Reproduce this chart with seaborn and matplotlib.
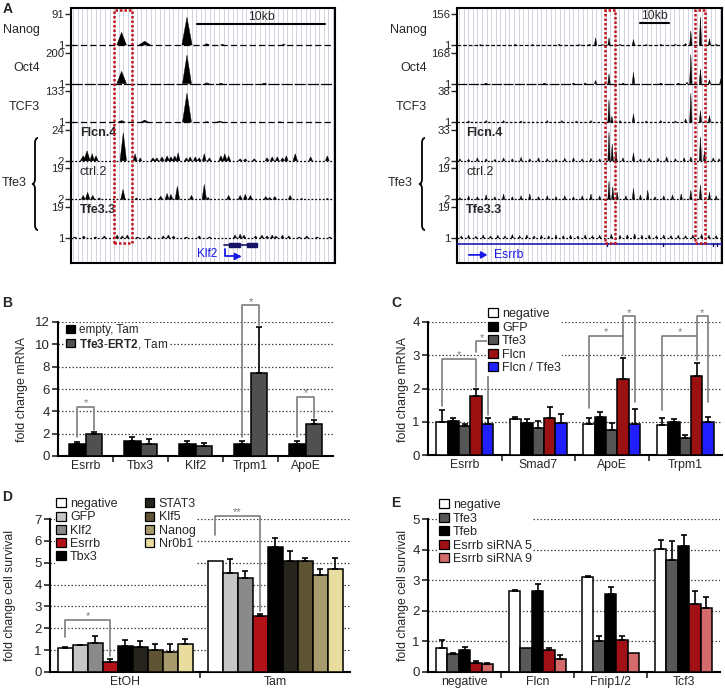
import numpy as np
import pandas as pd
import seaborn as sns
import matplotlib
matplotlib.use("Agg")
import matplotlib.pyplot as plt
import matplotlib.transforms as mtransforms
from matplotlib.patches import Patch, Rectangle, PathPatch
from matplotlib.path import Path

# ---------------------------------------------------------------- data
# Panel A, left browser (Klf2 locus), positions in kb, (pos, signal, width)
L_NAMES = ["Nanog", "Oct4", "TCF3", "Flcn.4", "ctrl.2", "Tfe3.3"]
L_RANGES = [(1, 91), (1, 200), (1, 133), (2, 24), (2, 19), (1, 19)]
L_NANOG = [(3.95, 38, 0.75), (5.75, 12, 0.9), (9.05, 82, 0.8), (10.6, 5, 0.4), (11.8, 3, 0.3), (16.6, 3, 0.3)]
L_OCT4 = [(3.95, 80, 0.75), (9.05, 185, 0.7), (10.6, 6, 0.4), (11.7, 4, 0.3), (15.1, 3, 0.3)]
L_TCF3 = [(3.95, 8, 0.6), (5.75, 10, 0.6), (9.05, 125, 0.7), (10.6, 4, 0.3), (11.6, 6, 0.5), (16.3, 3, 0.3)]
L_FLCN = [(0.95, 5.5, 0.45), (1.25, 9.1, 0.5), (1.65, 7.0, 0.35), (1.95, 5.5, 0.35), (4.08, 22, 0.5),
          (5.0, 7.0, 0.3), (5.4, 4.1, 0.25), (6.4, 4.1, 0.35), (6.7, 4.1, 0.3), (7.1, 4.8, 0.35),
          (7.5, 5.5, 0.35), (7.8, 4.8, 0.35), (8.1, 5.5, 0.35), (8.36, 7.7, 0.3), (9.0, 4.1, 0.3),
          (9.3, 4.8, 0.3), (9.7, 4.8, 0.3), (10.0, 4.1, 0.3), (10.4, 7.0, 0.3), (10.8, 4.1, 0.3),
          (11.7, 5.5, 0.35), (12.0, 7.0, 0.35), (12.3, 5.5, 0.3), (13.2, 3.4, 0.3), (13.6, 3.4, 0.3),
          (14.3, 3.4, 0.3), (15.3, 4.1, 0.3), (15.7, 4.8, 0.3), (16.1, 4.8, 0.3), (16.5, 4.1, 0.3),
          (16.8, 5.5, 0.3), (17.5, 7.0, 0.35), (18.7, 4.8, 0.3), (20.0, 5.5, 0.3)]
L_CTRL = [(0.95, 4.2, 0.3), (1.3, 5.9, 0.35), (1.7, 4.2, 0.3), (2.2, 2.8, 0.25), (4.06, 7.5, 0.35),
          (5.1, 2.8, 0.25), (6.2, 2.8, 0.25), (7.0, 3.8, 0.3), (7.5, 5.3, 0.3), (7.8, 4.8, 0.3),
          (8.3, 9.2, 0.35), (9.4, 4.2, 0.3), (10.4, 10.2, 0.35), (10.7, 3.1, 0.25), (12.3, 4.2, 0.3),
          (13.2, 4.2, 0.3), (13.6, 4.8, 0.3), (14.0, 4.2, 0.3), (15.2, 3.6, 0.3), (15.5, 3.1, 0.25),
          (15.9, 3.6, 0.3), (17.1, 4.2, 0.3), (18.0, 2.6, 0.2), (20.0, 2.6, 0.2)]
L_TFE33 = [(0.3, 1.6, 0.25), (1.0, 2.2, 0.25), (1.9, 1.6, 0.25), (2.6, 2.2, 0.25), (3.6, 2.7, 0.25),
           (4.0, 2.2, 0.25), (4.4, 2.7, 0.25), (5.2, 1.6, 0.25), (6.1, 2.2, 0.25), (7.2, 2.2, 0.25),
           (7.6, 2.7, 0.25), (8.0, 2.2, 0.25), (9.0, 1.6, 0.25), (10.0, 2.2, 0.25), (10.8, 1.6, 0.25),
           (12.8, 2.7, 0.25), (13.2, 3.3, 0.25), (13.5, 2.7, 0.25), (14.4, 2.2, 0.25), (14.9, 2.7, 0.25),
           (15.3, 2.2, 0.25), (15.7, 2.7, 0.25), (16.0, 2.2, 0.25), (16.5, 2.7, 0.25), (17.0, 2.2, 0.25),
           (17.8, 1.6, 0.25), (18.4, 2.2, 0.25), (19.2, 1.6, 0.25), (20.2, 1.6, 0.25)]
L_SPAN_KB = 20.6
L_BOX_KB = (3.36, 4.77)
L_SCALE_KB = (9.84, 19.84)
KLF2_SPAN = (11.9, 14.5)
KLF2_EXONS = [(12.3, 13.2), (13.7, 14.5)]

# Panel A, right browser (Esrrb locus), (pos, signal)
R_RANGES = [(1, 156), (1, 168), (1, 38), (2, 33), (2, 19), (1, 19)]
R_NANOG = [(8, 2), (20, 3), (26, 2), (35, 3), (42, 2), (45.5, 5), (47.6, 37), (50, 3), (52.2, 37), (56, 4),
           (60.6, 29), (65, 2), (70, 3), (75, 4), (78.5, 9), (80.3, 72), (83.6, 143), (86.7, 33), (89, 3)]
R_OCT4 = [(10, 2), (30, 3), (40, 2), (44, 5), (47.6, 18), (52.2, 54), (57, 4), (60.6, 63), (70, 3), (76, 3),
          (79, 8), (80.3, 160), (83.6, 80), (86.7, 22), (90.6, 27)]
R_TCF3 = [(4, 2.5), (10, 3), (16, 3), (22, 2.5), (31, 3), (36, 3), (41, 2.5), (46, 3), (52.2, 28), (53.2, 8),
          (56, 3), (60.6, 11), (65, 2.5), (70, 3), (75, 2.5), (78.5, 5), (80.3, 36), (83.6, 15), (86.7, 9)]
R_FLCN = [(1, 4), (4, 3.5), (7, 5), (10, 4), (13, 3.5), (16, 5), (19, 4), (22, 5.5), (25, 4), (28, 5), (31, 4),
          (34, 3.5), (37, 4.5), (40, 5), (43, 4), (46, 4.5), (49, 4), (52.2, 31), (53.3, 19), (54.6, 12),
          (57, 5), (60.6, 10), (63, 4), (66, 5), (69, 4.5), (72, 6), (75, 4), (78, 5), (80.3, 6), (83.6, 26),
          (85, 12), (88, 5), (90, 4)]
R_CTRL = [(1, 3), (4, 4), (7, 3.5), (10, 4.5), (13, 3.5), (16, 5), (19, 3.5), (22, 4), (25, 5), (28, 3.5),
          (31, 4), (34, 3.5), (37, 4), (40, 3.5), (43, 4), (46, 5), (49, 4), (52.2, 12), (53.5, 9), (55, 6),
          (58, 4), (60.6, 8), (63, 4.5), (65.5, 7), (68, 3.5), (71, 4), (74, 4.5), (77, 5), (80.3, 7),
          (83.6, 10), (86.7, 6), (89, 4)]
R_TFE33 = [(1.5, 2.2), (4, 2.6), (6.5, 2), (9, 2.8), (11.5, 2.2), (14, 2.6), (16.5, 2.2), (19, 3), (21.5, 2.4),
           (24, 2.8), (26.5, 2.2), (29, 2.6), (31.5, 2.2), (34, 2.8), (36.5, 2.4), (39, 2.6), (41.5, 2.2),
           (44, 2.8), (46.5, 2.4), (49, 2.6), (53, 3.2), (56, 2.6), (58.5, 2.8), (61, 3.4), (63.5, 2.6),
           (66, 2.8), (68.5, 2.4), (71, 2.8), (73.5, 2.4), (76, 2.6), (78.5, 2.4), (81, 2.8), (84, 3.2),
           (86.5, 2.6), (89, 2.4)]
R_SPAN_KB = 91.0
R_BOXES_KB = [(50.8, 54.3), (81.8, 85.3)]
R_SCALE_KB = (62.8, 72.8)
ESRRB_MARKS = [51.4, 70.7, 87.9, 89.2]

# Panel B
B_GENES = ["Esrrb", "Tbx3", "Klf2", "Trpm1", "ApoE"]
B_GROUPS = ["empty, Tam", "Tfe3-ERT2, Tam"]
B_VALUES = {"empty, Tam": [1.1, 1.34, 1.1, 1.1, 1.1],
            "Tfe3-ERT2, Tam": [1.94, 1.1, 0.9, 7.43, 2.9]}
B_ERRORS = {"empty, Tam": [0.15, 0.36, 0.2, 0.24, 0.24],
            "Tfe3-ERT2, Tam": [0.21, 0.4, 0.23, 4.12, 0.3]}
B_COLORS = ["#000000", "#505050"]
B_BRACKETS = [("Esrrb", "empty, Tam", 1.7, "Tfe3-ERT2, Tam", 2.3, 4.4, "*"),
              ("Trpm1", "empty, Tam", 1.7, "Tfe3-ERT2, Tam", 11.7, 13.5, "*"),
              ("ApoE", "empty, Tam", 1.7, "Tfe3-ERT2, Tam", 3.4, 5.3, "*")]

# Panel C
C_GENES = ["Esrrb", "Smad7", "ApoE", "Trpm1"]
C_GROUPS = ["negative", "GFP", "Tfe3", "Flcn", "Flcn / Tfe3"]
C_VALUES = {"negative": [1.0, 1.07, 0.92, 0.9],
            "GFP": [1.02, 0.95, 1.15, 1.0],
            "Tfe3": [0.87, 0.8, 0.75, 0.5],
            "Flcn": [1.78, 1.12, 2.29, 2.38],
            "Flcn / Tfe3": [0.92, 0.95, 0.92, 0.98]}
C_ERRORS = {"negative": [0.35, 0.08, 0.18, 0.2],
            "GFP": [0.08, 0.12, 0.13, 0.08],
            "Tfe3": [0.05, 0.23, 0.2, 0.1],
            "Flcn": [0.22, 0.33, 0.62, 0.4],
            "Flcn / Tfe3": [0.18, 0.27, 0.45, 0.15]}
C_COLORS = ["#ffffff", "#000000", "#555555", "#9b1111", "#1f1fff"]
C_BRACKETS = [("Esrrb", "negative", 1.46, "Flcn", 2.05, 2.9, "*"),
              ("Esrrb", "Flcn", 3.1, "Flcn / Tfe3", 1.2, 3.42, "*"),
              ("ApoE", "negative", 1.4, "Flcn", 3.0, 3.59, "*"),
              ("ApoE", "Flcn", 3.59, "Flcn / Tfe3", 1.6, 4.17, "*"),
              ("Trpm1", "negative", 1.36, "Flcn", 2.85, 3.59, "*"),
              ("Trpm1", "Flcn", 3.59, "Flcn / Tfe3", 1.6, 4.17, "*")]

# Panel D
D_TREATMENTS = ["EtOH", "Tam"]
D_GROUPS = ["negative", "GFP", "Klf2", "Esrrb", "Tbx3", "STAT3", "Klf5", "Nanog", "Nr0b1"]
D_VALUES = {"negative": [1.1, 5.1], "GFP": [1.22, 4.53], "Klf2": [1.34, 4.31], "Esrrb": [0.46, 2.56],
            "Tbx3": [1.19, 5.72], "STAT3": [1.14, 5.1], "Klf5": [0.99, 5.09], "Nanog": [0.91, 4.45],
            "Nr0b1": [1.3, 4.73]}
D_ERRORS = {"negative": [0.04, 0.0], "GFP": [0.03, 0.65], "Klf2": [0.29, 0.31], "Esrrb": [0.15, 0.08],
            "Tbx3": [0.26, 0.41], "STAT3": [0.28, 0.42], "Klf5": [0.28, 0.12], "Nanog": [0.36, 0.25],
            "Nr0b1": [0.19, 0.48]}
D_COLORS = ["#ffffff", "#c6c6c6", "#8a8a8a", "#b01218", "#000000", "#26241c", "#5e5434", "#a79a6c", "#e8dc9e"]
D_BRACKETS = [("EtOH", "negative", 1.6, "Esrrb", 0.75, 2.39, "*"),
              ("Tam", "negative", 6.25, "Esrrb", 2.78, 7.15, "**")]

# Panel E
E_GENES = ["negative", "Flcn", "Fnip1/2", "Tcf3"]
E_GROUPS = ["negative", "Tfe3", "Tfeb", "Esrrb siRNA 5", "Esrrb siRNA 9"]
E_VALUES = {"negative": [0.79, 2.64, 3.12, 4.03],
            "Tfe3": [0.58, 0.77, 1.0, 3.67],
            "Tfeb": [0.73, 2.66, 2.55, 4.12],
            "Esrrb siRNA 5": [0.31, 0.71, 1.04, 2.21],
            "Esrrb siRNA 9": [0.27, 0.44, 0.62, 2.08]}
E_ERRORS = {"negative": [0.27, 0.04, 0.02, 0.27],
            "Tfe3": [0.05, 0.0, 0.18, 0.6],
            "Tfeb": [0.09, 0.21, 0.24, 0.37],
            "Esrrb siRNA 5": [0.04, 0.09, 0.14, 0.45],
            "Esrrb siRNA 9": [0.04, 0.13, 0.0, 0.38]}
E_COLORS = ["#ffffff", "#585858", "#000000", "#a11015", "#d46a6a"]

# ---------------------------------------------------------------- style
sns.set_style("white")
plt.rcParams["font.family"] = ["Liberation Sans", "DejaVu Sans"]
plt.rcParams["mathtext.fontset"] = "custom"
plt.rcParams["mathtext.rm"] = "Liberation Sans"
plt.rcParams["mathtext.bf"] = "Liberation Sans:bold"

W, H = 725, 690
fig = plt.figure(figsize=(W / 100, H / 100), dpi=100)


def pax(x0, y0, x1, y1):
    return fig.add_axes([x0 / W, 1 - y1 / H, (x1 - x0) / W, (y1 - y0) / H])


def ftext(x, y, s, **kw):
    return fig.text(x / W, 1 - y / H, s, **kw)


def brace(x, y0, y1, w=6, lw=1.3):
    ym = (y0 + y1) / 2
    r = 5
    pts = [(x + w, y0), (x + w / 2, y0), (x + w / 2, y0 + r), (x + w / 2, ym - r), (x + w / 2, ym), (x, ym),
           (x + w / 2, ym), (x + w / 2, ym + r), (x + w / 2, y1 - r), (x + w / 2, y1), (x + w, y1)]
    codes = [Path.MOVETO, Path.CURVE3, Path.CURVE3, Path.LINETO, Path.CURVE3, Path.CURVE3,
             Path.CURVE3, Path.CURVE3, Path.LINETO, Path.CURVE3, Path.CURVE3]
    verts = [(px / W, 1 - py / H) for px, py in pts]
    fig.add_artist(PathPatch(Path(verts, codes), fill=False, lw=lw, ec="black", transform=fig.transFigure))


TRACK_H = 0.8


def genome_panel(ax, span, tracks, dashes):
    ax.set_xlim(0, span)
    ax.set_ylim(-5.65, 0.96)
    for xf in np.linspace(0.008, 0.992, 58):
        ax.axvline(xf * span, color="#d2d2e2", lw=0.7, zorder=0)
    ticks, labels = [], []
    for k, ((vmin, vmax), peaks) in enumerate(tracks):
        base = -k
        ax.plot([0, span], [base, base], color="black", lw=0.9, ls=dashes[k], zorder=2)
        for pk in peaks:
            pos, v = pk[0], pk[1]
            w = pk[2] if len(pk) > 2 else span * 0.009
            h = TRACK_H * min(1.0, (v - vmin) / (vmax - vmin))
            ax.fill([pos - w / 2, pos, pos + w / 2], [base, base + h, base], color="black",
                    lw=0.3, zorder=3)
        ticks += [base + TRACK_H, base]
        labels += [str(vmax), str(vmin)]
    ax.set_yticks(ticks)
    ax.set_yticklabels(labels, fontsize=8.2)
    ax.set_xticks([])
    ax.tick_params(axis="y", left=True, length=4, width=1, pad=1, direction="out")
    for s in ax.spines.values():
        s.set_color("black")
        s.set_linewidth(1.5)
    bt = mtransforms.blended_transform_factory(ax.transAxes, ax.transData)
    ax.text(0.034, -2.28, "Flcn.4", transform=bt, fontsize=9, weight="bold", va="center")
    ax.text(0.034, -3.29, "ctrl.2", transform=bt, fontsize=9, va="center")
    ax.text(0.034, -4.27, "Tfe3.3", transform=bt, fontsize=9, weight="bold", va="center")


BOX_KW = dict(fill=False, ec="#c0141e", lw=1.8, ls=(0, (1, 0.8)), zorder=6)

# ---------------- A left
axL = pax(71, 8, 335, 263)
genome_panel(axL, L_SPAN_KB,
             list(zip(L_RANGES, [L_NANOG, L_OCT4, L_TCF3, L_FLCN, L_CTRL, L_TFE33])),
             [(0, (5, 2.5)), (0, (9, 1.5)), (0, (5, 2.5)), (0, (1.5, 1.5)), (0, (1.5, 1.5)), (0, (1.5, 1.5))])
axL.add_patch(Rectangle((L_BOX_KB[0], -5.13), L_BOX_KB[1] - L_BOX_KB[0], 6.04, **BOX_KW))
axL.plot(L_SCALE_KB, [0.545, 0.545], color="black", lw=1.5)
axL.text(np.mean(L_SCALE_KB), 0.58, "10kb", ha="center", va="bottom", fontsize=8.8)
axL.plot(KLF2_SPAN, [-5.18, -5.18], color="#141466", lw=1.2, zorder=4)
for a, b in KLF2_EXONS:
    axL.add_patch(Rectangle((a, -5.23), b - a, 0.1, color="#141466", zorder=4))
axL.text(11.4, -5.42, "Klf2", color="#1a1ae6", ha="right", va="center", fontsize=8.6)
axL.plot([12.0, 12.0, 13.1], [-5.3, -5.48, -5.48], color="#1a1ae6", lw=1.3)
axL.annotate("", xy=(13.5, -5.48), xytext=(12.9, -5.48),
             arrowprops=dict(arrowstyle="-|>,head_length=0.35,head_width=0.2", color="#1a1ae6", lw=1.3))

# ---------------- A right
axR = pax(457, 8, 722, 263)
genome_panel(axR, R_SPAN_KB,
             list(zip(R_RANGES, [R_NANOG, R_OCT4, R_TCF3, R_FLCN, R_CTRL, R_TFE33])),
             [(0, (3, 1.5)), (0, (8, 1.2)), (0, (2, 1.5)), (0, (1.5, 1.2)), (0, (1.5, 1.2)), (0, (1.5, 1.5))])
for a, b in R_BOXES_KB:
    axR.add_patch(Rectangle((a, -5.13), b - a, 6.04, **BOX_KW))
axR.plot(R_SCALE_KB, [0.56, 0.56], color="black", lw=1.5)
axR.text(np.mean(R_SCALE_KB), 0.6, "10kb", ha="center", va="bottom", fontsize=8.8)
axR.plot([0, R_SPAN_KB], [-5.16, -5.16], color="#1c1cb0", lw=1.2, zorder=4)
for m in ESRRB_MARKS:
    axR.plot([m, m], [-5.2, -5.12], color="#141466", lw=1.0, zorder=4)
axR.annotate("", xy=(11.4, -5.44), xytext=(3.1, -5.44),
             arrowprops=dict(arrowstyle="-|>,head_length=0.35,head_width=0.2", color="#1a1ae6", lw=1.3))
axR.text(12.6, -5.44, "Esrrb", color="#1a1ae6", ha="left", va="center", fontsize=8.8)

# track labels
for xr, names_x in [(40, 14), (427, 400)]:
    ftext(xr, 30, "Nanog", ha="right", va="center", fontsize=9)
    ftext(xr, 68, "Oct4", ha="right", va="center", fontsize=9)
    ftext(xr, 107, "TCF3", ha="right", va="center", fontsize=9)
    ftext(names_x, 183, "Tfe3", ha="center", va="center", fontsize=9)
brace(32, 138, 230)
brace(419, 138, 230)


# ---------------- bar panels
def bar_panel(ax, cats, groups, values, errors, colors, width, ymax, ystep, grid, fs_x=8.8):
    rows = []
    for g in groups:
        for c, v in zip(cats, values[g]):
            rows.append({"cat": c, "grp": g, "val": v})
    df = pd.DataFrame(rows)
    sns.barplot(data=df, x="cat", y="val", hue="grp", order=cats, hue_order=groups,
                palette=dict(zip(groups, colors)), width=width, saturation=1, edgecolor="black",
                linewidth=1.1, errorbar=None, legend=False, ax=ax, zorder=3)
    centers = {}
    idx = 0
    for g in groups:
        for i, c in enumerate(cats):
            p = ax.patches[idx]
            idx += 1
            cx = p.get_x() + p.get_width() / 2
            centers[(c, g)] = cx
            e = errors[g][i]
            if e > 0:
                ax.errorbar(cx, p.get_height(), yerr=[[0], [e]], fmt="none", ecolor="black",
                            elinewidth=1.2, capsize=2.5, capthick=1.2, zorder=4)
    for y in grid:
        ax.axhline(y, color="#444444", lw=0.9, ls=(0, (1.2, 1.6)), zorder=0)
    ax.set_xlim(-0.5, len(cats) - 0.5)
    ax.set_ylim(0, ymax)
    ax.set_yticks(np.arange(0, ymax + 0.01, ystep))
    ax.set_yticklabels([f"{v:g}" for v in np.arange(0, ymax + 0.01, ystep)], fontsize=9.5)
    ax.set_xticks(range(len(cats)))
    ax.set_xticklabels(cats, fontsize=fs_x)
    ax.set_xticks(np.arange(0.5, len(cats) - 1, 1), minor=True)
    ax.tick_params(axis="x", which="major", length=0, pad=3)
    ax.tick_params(axis="x", which="minor", length=4, width=1.2, bottom=True, direction="out")
    ax.tick_params(axis="y", left=True, length=4, width=1.2, direction="out", pad=2)
    ax.set_xlabel("")
    ax.set_ylabel("")
    sns.despine(ax=ax)
    for s in ("left", "bottom"):
        ax.spines[s].set_color("black")
        ax.spines[s].set_linewidth(1.5)
    return centers


def brackets(ax, centers, specs):
    for cat, g1, y1, g2, y2, top, lab in specs:
        x1, x2 = centers[(cat, g1)], centers[(cat, g2)]
        ax.plot([x1, x1, x2, x2], [y1, top, top, y2], color="#7d7d7d", lw=1.2, clip_on=False, zorder=5)
        ax.annotate(lab, xy=((x1 + x2) / 2, top), xytext=(0, -1), textcoords="offset points",
                    ha="center", va="bottom", color="#7d7d7d", fontsize=8, annotation_clip=False)


def legend(ax, groups, colors, x, y, fs, ncol=1, spacing=0.1, colspace=1.0, labels=None):
    handles = [Patch(facecolor=c, edgecolor="black", lw=0.9, label=(labels or groups)[i])
               for i, c in enumerate(colors)]
    lg = ax.legend(handles=handles, loc="upper left", bbox_to_anchor=(x / W, 1 - y / H),
                   bbox_transform=fig.transFigure, ncol=ncol, fontsize=fs, frameon=True, framealpha=1,
                   edgecolor="none", facecolor="white", handlelength=0.75, handleheight=0.75,
                   handletextpad=0.35, labelspacing=spacing, borderpad=0.1, borderaxespad=0,
                   columnspacing=colspace, fancybox=False)
    lg.set_zorder(6)
    return lg


# B
axB = pax(58, 322, 333, 456)
cB = bar_panel(axB, B_GENES, B_GROUPS, B_VALUES, B_ERRORS, B_COLORS, 0.6, 12, 2, range(2, 13, 2))
brackets(axB, cB, B_BRACKETS)
legend(axB, B_GROUPS, B_COLORS, 65, 323, 8.5, spacing=0.05,
       labels=["empty, Tam", r"$\mathbf{Tfe3}$-$\mathbf{ERT2}$, Tam"])
ftext(22, 389, "fold change mRNA", rotation=90, ha="center", va="center", fontsize=9)

# C
axC = pax(428, 322, 722, 455)
cC = bar_panel(axC, C_GENES, C_GROUPS, C_VALUES, C_ERRORS, C_COLORS, 0.78, 4, 1, [1, 2, 3, 4])
brackets(axC, cC, C_BRACKETS)
legend(axC, C_GROUPS, C_COLORS, 487, 307, 9, spacing=0.12)
ftext(403, 389, "fold change mRNA", rotation=90, ha="center", va="center", fontsize=9)

# D
axD = pax(50, 519, 350, 672)
D_VAL_BY_GROUP = {g: D_VALUES[g] for g in D_GROUPS}
cD = bar_panel(axD, D_TREATMENTS, D_GROUPS, D_VAL_BY_GROUP, D_ERRORS, D_COLORS, 0.9, 7, 1, range(1, 8))
brackets(axD, cD, D_BRACKETS)
legend(axD, D_GROUPS, D_COLORS, 55, 497, 9, ncol=2, spacing=0.1, colspace=2.2)
ftext(10, 595, "fold change cell survival", rotation=90, ha="center", va="center", fontsize=8.8)

# E
axE = pax(428, 519, 720, 672)
cE = bar_panel(axE, E_GENES, E_GROUPS, E_VALUES, E_ERRORS, E_COLORS, 0.78, 5, 1, range(1, 6))
legend(axE, E_GROUPS, E_COLORS, 438, 498, 9, spacing=0.12)
ftext(403, 595, "fold change cell survival", rotation=90, ha="center", va="center", fontsize=8.8)

# panel letters
for lx, ly, lt in [(3, 2, "A"), (2, 296, "B"), (391, 296, "C"), (2, 490, "D"), (391, 496, "E")]:
    ftext(lx, ly, lt, ha="left", va="top", fontsize=10, weight="bold")

fig.savefig("out.png", dpi=100)
